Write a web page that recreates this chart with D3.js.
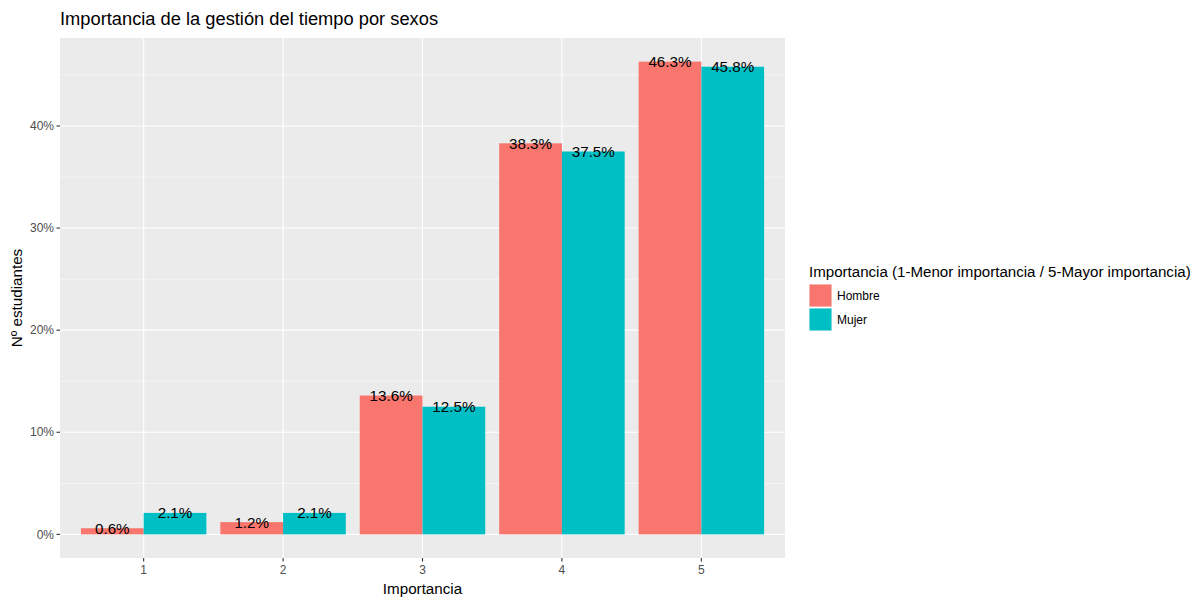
<!DOCTYPE html>
<html><head><meta charset="utf-8">
<script src="https://d3js.org/d3.v7.min.js"></script>
<style>body{margin:0;background:#fff;} text{font-family:"Liberation Sans",Arial,Helvetica,sans-serif;}</style>
</head><body>
<svg id="c" width="1203" height="598"></svg>
<script>
const categories = ["1","2","3","4","5"];
const seriesNames = ["Hombre","Mujer"];
const hombre = [0.6, 1.2, 13.6, 38.3, 46.3];
const mujer = [2.1, 2.1, 12.5, 37.5, 45.8];
const yTicks = [0,10,20,30,40];
const yMinor = [5,15,25,35,45];
const colors = ["#F8766D","#00BFC4"];

const svg = d3.select("#c");
const P = {l:60, r:785, t:38, b:558};
const data = [];
categories.forEach((c,i)=>{ data.push({c, s:"Hombre", v:hombre[i]}); data.push({c, s:"Mujer", v:mujer[i]}); });

// ggplot: discrete expand 0.6 units each side, band width 0.9
const unit = (P.r-P.l)/(categories.length - 1 + 1.2);
const cx = c => P.l + unit*(0.6 + categories.indexOf(c));
const xs = d3.scaleBand().domain(seriesNames).range([-unit*0.45, unit*0.45]);
const ymax = d3.max(hombre.concat(mujer)), ymin = 0;
const ext = (ymax-ymin)*0.05;
const y = d3.scaleLinear().domain([ymin-ext, ymax+ext]).range([P.b,P.t]);

svg.append("rect").attr("x",P.l).attr("y",P.t).attr("width",P.r-P.l).attr("height",P.b-P.t).attr("fill","#EBEBEB");
const g = svg.append("g");
yMinor.forEach(t=> g.append("line").attr("x1",P.l).attr("x2",P.r).attr("y1",y(t)).attr("y2",y(t)).attr("stroke","#fff").attr("stroke-width",0.55));
yTicks.forEach(t=> g.append("line").attr("x1",P.l).attr("x2",P.r).attr("y1",y(t)).attr("y2",y(t)).attr("stroke","#fff").attr("stroke-width",1.1));
categories.forEach(c=> g.append("line").attr("x1",cx(c)).attr("x2",cx(c)).attr("y1",P.t).attr("y2",P.b).attr("stroke","#fff").attr("stroke-width",1.1));

svg.append("g").selectAll("rect").data(data).join("rect")
  .attr("x",d=>cx(d.c)+xs(d.s)).attr("width",xs.bandwidth())
  .attr("y",d=>y(d.v)).attr("height",d=>y(0)-y(d.v))
  .attr("fill",d=>colors[seriesNames.indexOf(d.s)]);

svg.append("g").selectAll("text").data(data).join("text")
  .attr("x",d=>cx(d.c)+xs(d.s)+xs.bandwidth()/2).attr("y",d=>y(d.v))
  .attr("dy","0.36em").attr("text-anchor","middle").attr("font-size",15.2).attr("fill","#000")
  .text(d=>d.v.toFixed(1)+"%");

// axes
const ya = svg.append("g");
yTicks.forEach(t=>{
  ya.append("line").attr("x1",P.l-3.5).attr("x2",P.l).attr("y1",y(t)).attr("y2",y(t)).attr("stroke","#333").attr("stroke-width",1.1);
  ya.append("text").attr("x",P.l-6).attr("y",y(t)).attr("dy","0.35em").attr("text-anchor","end").attr("font-size",12).attr("fill","#4D4D4D").text(t+"%");
});
categories.forEach(c=>{
  ya.append("line").attr("x1",cx(c)).attr("x2",cx(c)).attr("y1",P.b).attr("y2",P.b+3.5).attr("stroke","#333").attr("stroke-width",1.1);
  ya.append("text").attr("x",cx(c)).attr("y",P.b+12).attr("dy","0.35em").attr("text-anchor","middle").attr("font-size",12).attr("fill","#4D4D4D").text(c);
});
svg.append("text").attr("x",(P.l+P.r)/2).attr("y",589).attr("dy","0.35em").attr("text-anchor","middle").attr("font-size",15.2).attr("fill","#000").text("Importancia");
svg.append("text").attr("transform",`translate(17,${(P.t+P.b)/2}) rotate(-90)`).attr("dy","0.35em").attr("text-anchor","middle").attr("font-size",15.2).attr("fill","#000").text("Nº estudiantes");
svg.append("text").attr("x",P.l).attr("y",19).attr("dy","0.35em").attr("font-size",18.3).attr("fill","#000").text("Importancia de la gestión del tiempo por sexos");

// legend
const lg = svg.append("g");
lg.append("text").attr("x",809).attr("y",272).attr("dy","0.35em").attr("font-size",15.1).attr("fill","#000").text("Importancia (1-Menor importancia / 5-Mayor importancia)");
seriesNames.forEach((s,i)=>{
  lg.append("rect").attr("x",809).attr("y",284+i*24).attr("width",23).attr("height",23).attr("fill","#F2F2F2");
  lg.append("rect").attr("x",809.5).attr("y",284.5+i*24).attr("width",22).attr("height",22).attr("fill",colors[i]);
  lg.append("text").attr("x",837).attr("y",296+i*24).attr("dy","0.35em").attr("font-size",12).attr("fill","#000").text(s);
});
</script>
</body></html>
